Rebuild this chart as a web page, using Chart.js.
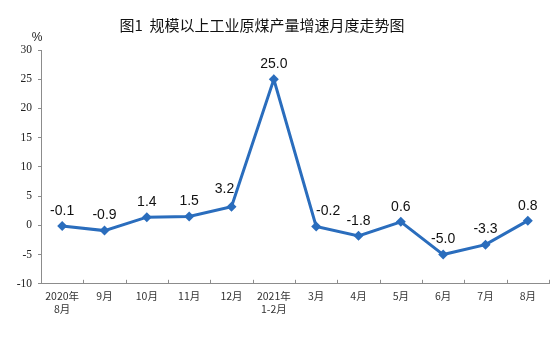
<!DOCTYPE html>
<html>
<head>
<meta charset="utf-8">
<script src="https://cdn.jsdelivr.net/npm/chart.js@4.4.1/dist/chart.umd.min.js"></script>
<style>
  html, body { margin: 0; padding: 0; background: #fff; }
  #wrap { width: 554px; height: 352px; position: relative; }
</style>
</head>
<body>
<div id="wrap"><canvas id="coalChart"></canvas></div>
<script>
var months = [["2020年", "8月"], "9月", "10月", "11月", "12月", ["2021年", "1-2月"], "3月", "4月", "5月", "6月", "7月", "8月"];
var growth = [-0.1, -0.9, 1.4, 1.5, 3.2, 25.0, -0.2, -1.8, 0.6, -5.0, -3.3, 0.8];
var yMin = -10, yMax = 30, yStep = 5;
var chartTitle = '图1  规模以上工业原煤产量增速月度走势图';

var lineBlue = '#2A6DBD';

// value labels above each point (a couple are nudged sideways off the line)
var valueLabels = {
    id: 'valueLabels',
    afterDatasetsDraw: function (chart) {
        var ctx = chart.ctx;
        var meta = chart.getDatasetMeta(0);
        var nudge = { 4: [-7, -3], 6: [12, 0] };
        ctx.save();
        ctx.font = '14px "Liberation Sans", Arial, sans-serif';
        ctx.fillStyle = '#111';
        ctx.textAlign = 'center';
        ctx.textBaseline = 'bottom';
        meta.data.forEach(function (pt, i) {
            var d = nudge[i] || [0, 0];
            ctx.fillText(growth[i].toFixed(1), pt.x + d[0], pt.y - 8 + d[1]);
        });
        ctx.restore();
    }
};

// title, "%" unit above the y axis and inward ticks on the x axis
var axisExtras = {
    id: 'axisExtras',
    afterDraw: function (chart) {
        var ctx = chart.ctx;
        var area = chart.chartArea;
        var x = chart.scales.x;
        ctx.save();
        ctx.font = '15px "Noto Sans CJK SC", sans-serif';
        ctx.fillStyle = '#111';
        ctx.textAlign = 'center';
        ctx.textBaseline = 'middle';
        ctx.fillText(chartTitle, 262, 25);

        ctx.font = '12px "Liberation Sans", Arial, sans-serif';
        ctx.fillStyle = '#222';
        ctx.textBaseline = 'bottom';
        ctx.fillText('%', area.left - 4, area.top - 6);
        ctx.strokeStyle = '#8c8c8c';
        ctx.lineWidth = 1;
        ctx.beginPath();
        for (var i = 1; i <= months.length; i++) {
            var px = Math.round(x.getPixelForValue(i - 0.5)) + 0.5;
            ctx.moveTo(px, area.bottom);
            ctx.lineTo(px, area.bottom - 4);
        }
        ctx.stroke();
        ctx.restore();
    }
};

new Chart(document.getElementById('coalChart').getContext('2d'), {
    type: 'line',
    data: {
        labels: months,
        datasets: [{
            label: '原煤产量增速',
            data: growth,
            borderColor: lineBlue,
            backgroundColor: lineBlue,
            borderWidth: 3,
            fill: false,
            tension: 0,
            pointStyle: 'rectRot',
            pointRadius: 5,
            pointHoverRadius: 5,
            pointBorderWidth: 0
        }]
    },
    options: {
        responsive: true,
        maintainAspectRatio: false,
        animation: false,
        layout: { padding: { left: 0, right: 4, top: 50, bottom: 31 } },
        plugins: {
            legend: { display: false },
            tooltip: { enabled: false },
            title: { display: false }
        },
        scales: {
            x: {
                offset: true,
                grid: { display: true, drawOnChartArea: false, drawTicks: false },
                border: { display: true, color: '#8c8c8c', width: 1 },
                ticks: {
                    color: '#333',
                    font: { family: '"Noto Sans CJK SC", sans-serif', size: 10.5 },
                    padding: 6,
                    maxRotation: 0,
                    autoSkip: false
                }
            },
            y: {
                min: yMin,
                max: yMax,
                afterFit: function (scale) { scale.width = 41; },
                grid: { display: true, drawOnChartArea: false, drawTicks: true, tickLength: 3, color: '#8c8c8c' },
                border: { display: true, color: '#8c8c8c', width: 1 },
                ticks: {
                    stepSize: yStep,
                    color: '#222',
                    font: { family: '"Liberation Serif", "Times New Roman", serif', size: 11.5 },
                    padding: 6
                }
            }
        }
    },
    plugins: [valueLabels, axisExtras]
});
</script>
</body>
</html>
